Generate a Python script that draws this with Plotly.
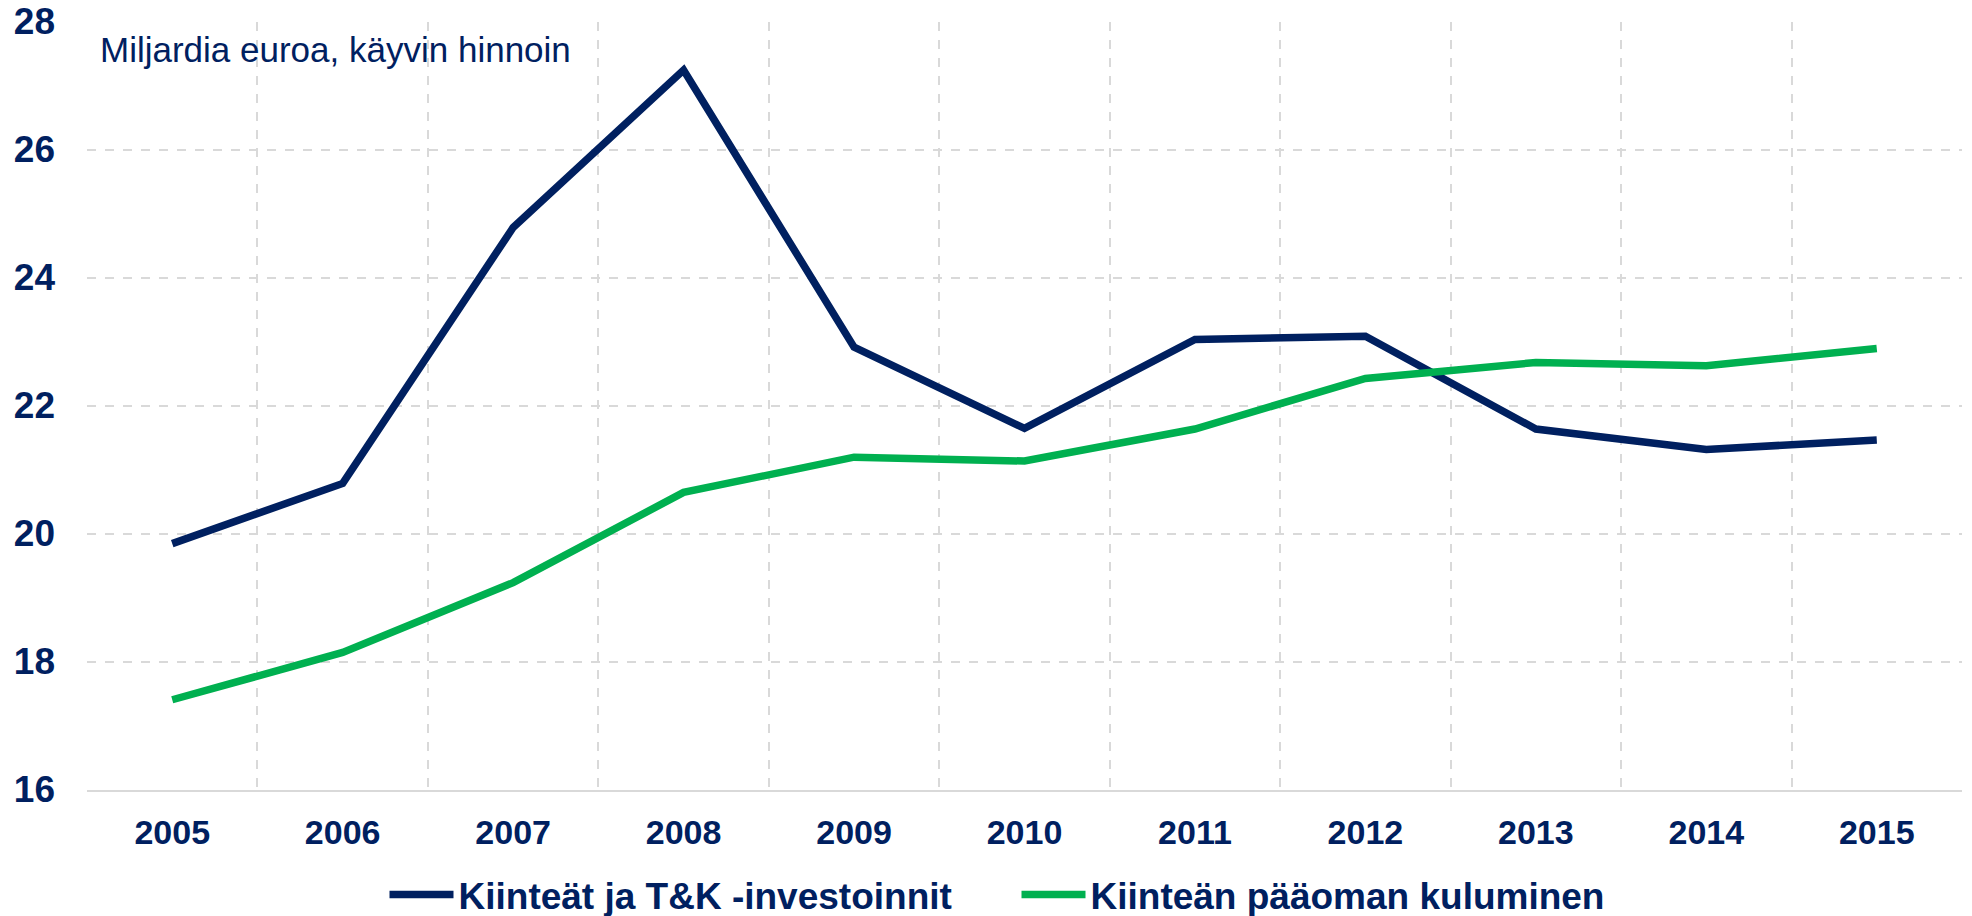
import plotly.graph_objects as go

years = ["2005", "2006", "2007", "2008", "2009", "2010", "2011", "2012", "2013", "2014", "2015"]
investoinnit = [19.85, 20.79, 24.79, 27.25, 22.92, 21.65, 23.04, 23.09, 21.64, 21.32, 21.47]
kuluminen = [17.41, 18.15, 19.24, 20.65, 21.20, 21.14, 21.64, 22.43, 22.68, 22.63, 22.90]

series_names = ["Kiinteät ja T&K -investoinnit", "Kiinteän pääoman kuluminen"]
y_ticks = [16, 18, 20, 22, 24, 26, 28]
note_text = "Miljardia euroa, käyvin hinnoin"

NAVY = "#002060"
GREEN = "#00B050"
GRID = "#D9D9D9"
FONT = "Liberation Sans, Arial, sans-serif"

fig = go.Figure()
fig.add_trace(go.Scatter(x=years, y=investoinnit, name=series_names[0], mode="lines",
                         line=dict(color=NAVY, width=7.5)))
fig.add_trace(go.Scatter(x=years, y=kuluminen, name=series_names[1], mode="lines",
                         line=dict(color=GREEN, width=7.5)))

# the page body adds an 8px margin, so the figure is 8px smaller than the window
fig.update_layout(
    width=1964, height=908,
    margin=dict(l=79, r=10, t=14, b=126, autoexpand=False),
    paper_bgcolor="white", plot_bgcolor="white",
    font=dict(family=FONT, color=NAVY),
    showlegend=True,
    legend=dict(orientation="h", xref="container", yref="container",
                x=0.1917, xanchor="left", y=0.0231, yanchor="middle",
                font=dict(family=FONT, size=37, color=NAVY, weight="bold"),
                itemwidth=64,
                entrywidth=553, entrywidthmode="pixels",
                tracegroupgap=0, traceorder="normal"),
    xaxis=dict(type="category", tickson="boundaries", showgrid=True,
               gridcolor=GRID, griddash="dash", gridwidth=1.5,
               showline=True, linecolor=GRID, linewidth=2,
               ticks="", ticklabelstandoff=11,
               tickfont=dict(family=FONT, size=34, color=NAVY, weight="bold"),
               range=[-0.5, 10.5], zeroline=False),
    yaxis=dict(range=[16, 28], tickvals=y_ticks, showgrid=True,
               gridcolor=GRID, griddash="dash", gridwidth=1.5,
               showline=False, zeroline=False, ticks="", ticklabelstandoff=31,
               ticklabeloverflow="allow", ticklabelshift=-1,
               tickfont=dict(family=FONT, size=37, color=NAVY, weight="bold")),
    annotations=[dict(text=note_text, xref="paper", yref="paper", x=0.006, y=0.992,
                      xanchor="left", yanchor="top", showarrow=False,
                      font=dict(family=FONT, size=35, color=NAVY))],
)

fig.write_html("out.html")
